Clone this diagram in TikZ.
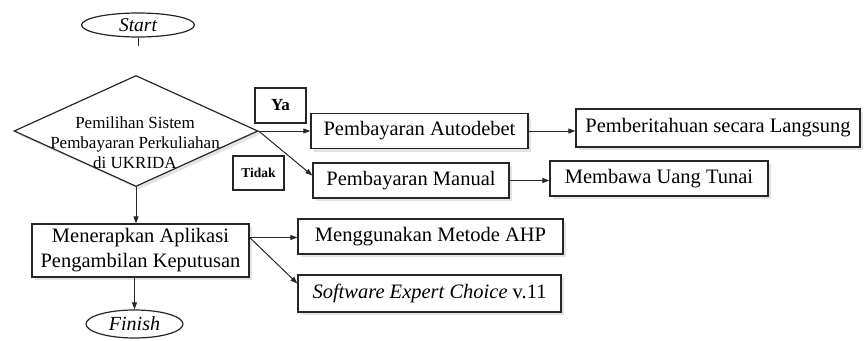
\documentclass[tikz,border=0pt]{standalone}
\usepackage{fontspec}
\setmainfont{Liberation Serif}
\usetikzlibrary{shapes.geometric,arrows.meta,shadows,calc}
\begin{document}
\begin{tikzpicture}[x=1pt,y=-1pt,
  shad/.style={drop shadow={shadow xshift=3pt,shadow yshift=-3pt,opacity=0.22}},
  box/.style={draw=black!85,line width=1.3pt,fill=white,inner sep=0pt,shad,
    font=\fontsize{20.5}{25}\selectfont,align=center},
  term/.style={draw=black!85,line width=1.2pt,fill=white,ellipse,inner sep=0pt,
    font=\fontsize{19.5}{22}\selectfont\itshape},
  dia/.style={draw=black!85,line width=1.2pt,fill=white,diamond,inner sep=0pt,shad},
  dtext/.style={font=\fontsize{17}{20}\selectfont,align=center,inner sep=0pt},
  lab/.style={draw=black!85,line width=1.3pt,fill=white,inner sep=0pt,font=\bfseries},
  arr/.style={line width=1pt,draw=black!85,-{Triangle[length=7pt,width=5pt]}},
  ln/.style={line width=1pt,draw=black!85}
]
\useasboundingbox (0,0) rectangle (864,340);

\node[term,minimum width=113pt,minimum height=24pt] (start) at (138,25) {Start};
\coordinate (sstub) at (138,46);

\node[dia,minimum width=244pt,minimum height=111pt] (dec) at (136,131) {};
\node[dtext] (dectext) at (135,143) {Pemilihan Sistem\\Pembayaran Perkuliahan\\di UKRIDA};

\node[box,minimum width=217pt,minimum height=53pt] (apl) at (140.5,250.5)
  {Menerapkan Aplikasi\\Pengambilan Keputusan};
\node[term,minimum width=97pt,minimum height=28pt,font=\fontsize{20}{22}\selectfont\itshape] (fin) at (134.5,324) {Finish};

\node[lab,minimum width=51pt,minimum height=35pt,font=\fontsize{17}{20}\selectfont\bfseries] (ya) at (280.5,105.5) {Ya};
\node[lab,minimum width=51pt,minimum height=34pt,font=\fontsize{13.5}{16}\selectfont\bfseries] (tdk) at (258.5,173) {Tidak};

\node[box,minimum width=217pt,minimum height=35pt] (auto) at (419.5,131) {Pembayaran Autodebet};
\node[box,minimum width=284pt,minimum height=38pt] (pemb) at (718,128) {Pemberitahuan secara Langsung};
\node[box,minimum width=196pt,minimum height=35pt] (man) at (411,180.5) {Pembayaran Manual};
\node[box,minimum width=218pt,minimum height=35pt] (mem) at (659,178.5) {Membawa Uang Tunai};
\node[box,minimum width=265pt,minimum height=35pt] (ahp) at (430.5,236.5) {Menggunakan Metode AHP};
\node[box,minimum width=263pt,minimum height=37pt] (sw) at (429.5,293.5) {\textit{Software Expert Choice} v.11};

\draw[ln] (start.south) -- (sstub);
\draw[arr] (dec.east) -- (auto.west);
\draw[arr] (dec.east) -- ($(man.west)+(0,-5)$);
\draw[arr] (auto.east) -- (auto.east -| pemb.west);
\draw[arr] (man.east) -- (man.east -| mem.west);
\draw[arr] (dec.south) -- (dec.south |- apl.north);
\draw[arr] (fin.north |- apl.south) -- (fin.north);
\coordinate (aplout) at ($(apl.east)+(0,-13)$);
\draw[arr] (aplout) -- (aplout -| ahp.west);
\draw[arr] (aplout) -- ($(sw.west)+(0,-10)$);
\end{tikzpicture}
\end{document}
